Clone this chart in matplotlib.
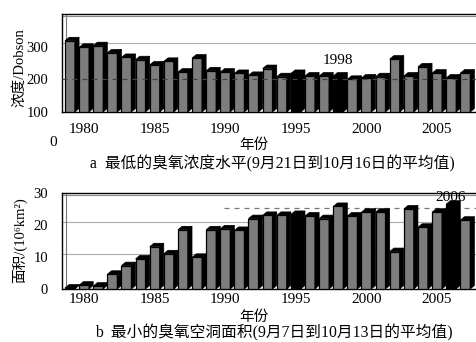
"""Two 3-D style bar charts: Antarctic ozone minimum and ozone-hole area."""

import matplotlib
matplotlib.use("Agg")
import matplotlib.pyplot as plt
import numpy as np

# ── Data ─────────────────────────────────────────────────────────────────────
years = np.arange(1979, 2008)

ozone_min = [318, 298, 303, 281, 267, 260, 244, 255, 222, 265,
             226, 222, 218, 212, 233, 208, 218, 210, 210, 210,
             200, 204, 208, 262, 210, 238, 219, 204, 219]

hole_area = [0.3, 1.2, 0.9, 4.6, 7.3, 9.4, 13.2, 11.0, 18.5, 9.9,
             18.5, 18.8, 18.3, 22.0, 23.0, 23.0, 23.3, 22.8, 22.0, 25.8,
             22.8, 24.0, 24.0, 11.7, 25.0, 19.3, 24.0, 26.5, 21.5]

black_a = [1995, 1998]
black_b = [1995, 2006]

xticks = [1980, 1985, 1990, 1995, 2000, 2005]

# ── Figure ───────────────────────────────────────────────────────────────────
W, H = 476, 342
fig = plt.figure(figsize=(W / 100, H / 100), dpi=100)
fig.patch.set_facecolor("white")

SERIF = ["Liberation Serif", "Noto Sans CJK SC", "DejaVu Sans"]
FRONT = "#7d7d7d"
BAR_W = 0.70
DX = 0.30            # depth in years
DEPTH_PX = 3.5


def px(x, y):
    return x / W, 1 - y / H


def axes_at(top, bottom):
    # axes runs off the right edge of the picture, like the cropped scan
    left, right = 62, 486.4
    return fig.add_axes([left / W, 1 - bottom / H, (right - left) / W, (bottom - top) / H])


def draw_bars(ax, vals, base, dy, blacks):
    vals = np.asarray(vals, dtype=float)
    colours = ["black" if y in blacks else FRONT for y in years]
    ax.bar(years, vals - base, bottom=base, width=BAR_W, color=colours,
           edgecolor="black", linewidth=0.9, zorder=3)
    for yr, v in zip(years, vals):
        l, r = yr - BAR_W / 2, yr + BAR_W / 2
        ax.fill([r, r + DX, r + DX, r], [base, base + dy, v + dy, v],
                color="black", lw=0.5, zorder=3)
        ax.fill([l, l + DX, r + DX, r], [v, v + dy, v + dy, v],
                color="black", lw=0.5, zorder=3)


def style(ax, ylim, yticks, dy):
    ax.set_xlim(1980 + (62 - 84) / 14.12, 2008.5)
    ax.set_ylim(*ylim)
    ax.set_xticks(xticks)
    ax.set_yticks(yticks)
    ax.spines["right"].set_visible(False)
    for s in ["top", "left", "bottom"]:
        ax.spines[s].set_linewidth(1.0)
    ax.tick_params(length=0)
    for lab in ax.get_xticklabels():
        lab.set_fontfamily(SERIF)
        lab.set_fontsize(11)
    for lab in ax.get_yticklabels():
        lab.set_fontfamily(SERIF)
        lab.set_fontsize(10.5)
    # back wall edges
    x0 = ax.get_xlim()[0]
    ax.plot([x0 + DX, x0 + DX], [ylim[0] + dy, ylim[1]], color="#777", lw=0.8, zorder=1)
    ax.axhline(ylim[1] - dy * 0.6, color="#888", lw=0.8, zorder=1)


# ── a: ozone minimum ─────────────────────────────────────────────────────────
ax1 = axes_at(14, 112)
dy1 = DEPTH_PX / 98 * 300
ax1.axhline(300 + dy1, color="#aaa", lw=0.8, zorder=1)
draw_bars(ax1, ozone_min, 100, dy1, black_a)
ax1.axhline(200, color="#444", lw=0.9, ls=(0, (4, 4)), zorder=4)
style(ax1, (100, 400), [100, 200, 300], dy1)
ax1.tick_params(axis="x", pad=8)
ax1.tick_params(axis="y", pad=10)
ax1.text(1998, 259, "1998", ha="center", va="center", fontsize=11, family=SERIF)
fig.text(*px(20, 68), "浓度/Dobson", rotation=90, ha="center", va="center",
         fontsize=10.5, family=SERIF)

fig.text(*px(53, 142), "0", ha="center", va="center", fontsize=11, family=SERIF)
fig.text(*px(254, 145), "年份", ha="center", va="center", fontsize=10.5, family=SERIF)
fig.text(*px(272, 164), "a  最低的臭氧浓度水平(9月21日到10月16日的平均值)",
         ha="center", va="center", fontsize=11.3, family=SERIF)

# ── b: ozone-hole area ───────────────────────────────────────────────────────
ax2 = axes_at(193, 289)
dy2 = DEPTH_PX / 96 * 30
for g in [10, 20]:
    ax2.axhline(g + dy2, color="#aaa", lw=0.8, zorder=1)
ax2.plot([1989.9, 2008.5], [25.2, 25.2], color="#777", lw=0.9, ls=(0, (4, 4)), zorder=2)
draw_bars(ax2, hole_area, 0, dy2, black_b)
style(ax2, (0, 30), [0, 10, 20, 30], dy2)
ax2.tick_params(axis="x", pad=3)
ax2.tick_params(axis="y", pad=10)
ax2.text(2006, 28.6, "2006", ha="center", va="center", fontsize=11, family=SERIF, zorder=5)
fig.text(*px(20, 240), "面积/(10⁶km²)", rotation=90, ha="center", va="center",
         fontsize=10.5, family=SERIF)

fig.text(*px(254, 317), "年份", ha="center", va="center", fontsize=10.5, family=SERIF)
fig.text(*px(274, 333), "b  最小的臭氧空洞面积(9月7日到10月13日的平均值)",
         ha="center", va="center", fontsize=11.3, family=SERIF)

fig.savefig("out.png", dpi=100)
